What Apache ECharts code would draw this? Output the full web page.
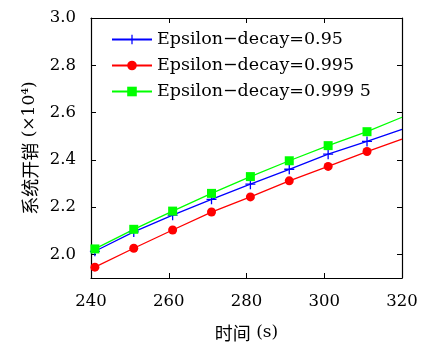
<!DOCTYPE html>
<html>
<head>
<meta charset="utf-8">
<script src="https://cdn.jsdelivr.net/npm/echarts@6/dist/echarts.min.js"></script>
<style>html,body{margin:0;padding:0;background:#fff}#c{width:422px;height:347px}</style>
</head>
<body>
<div id="c"></div>
<script>
// Data
var times = [241, 251, 261, 271, 281, 291, 301, 311];
var edgeTimes = [240, 320];
var seriesNames = ['Epsilon\u2212decay=0.95', 'Epsilon\u2212decay=0.995', 'Epsilon\u2212decay=0.999 5'];
var blueVals = [2.013, 2.095, 2.166, 2.233, 2.297, 2.360, 2.424, 2.478];
var redVals = [1.946, 2.026, 2.103, 2.179, 2.243, 2.311, 2.372, 2.435];
var greenVals = [2.023, 2.106, 2.183, 2.258, 2.329, 2.396, 2.460, 2.519];
var blueEdge = [2.005, 2.529];
var redEdge = [1.935, 2.488];
var greenEdge = [2.015, 2.580];
var yTicks = [2.0, 2.2, 2.4, 2.6, 2.8, 3.0];

var SERIF = 'DejaVu Serif';
var CJK = 'Noto Sans CJK SC';
var plus = 'path://M4.35,0h1.3v4.35h4.35v1.3h-4.35v4.35h-1.3v-4.35h-4.35v-1.3h4.35z';

function build(vals, edge) {
  var d = [{value: [edgeTimes[0], edge[0]], symbol: 'none'}];
  for (var i = 0; i < times.length; i++) d.push([times[i], vals[i]]);
  d.push({value: [edgeTimes[1], edge[1]], symbol: 'none'});
  return d;
}

var chart = echarts.init(document.getElementById('c'), null, {renderer: 'canvas'});
var axisLineStyle = {show: true, lineStyle: {color: '#000', width: 1.2}};
var nameRich = {
  c: {fontFamily: CJK, fontSize: 18, color: '#000'},
  l: {fontFamily: SERIF, fontSize: 17, color: '#000'}
};
var option = {
  animation: false,
  backgroundColor: '#fff',
  grid: {left: 91, right: 20, top: 18, bottom: 69, show: false},
  legend: {
    orient: 'vertical', left: 111, top: 29, padding: 0,
    itemWidth: 40, itemHeight: 12, itemGap: 5,
    textStyle: {fontFamily: SERIF, fontSize: 17.5, color: '#000', lineHeight: 21},
    data: seriesNames
  },
  xAxis: [{
    type: 'value', min: 240, max: 320, interval: 20,
    name: '{c|时间}{l| (s)}', nameLocation: 'middle', nameGap: 46,
    nameTextStyle: {rich: nameRich},
    axisLine: axisLineStyle,
    axisTick: {show: true, inside: true, length: 5, lineStyle: {color: '#000'}},
    axisLabel: {fontFamily: SERIF, fontSize: 16.5, color: '#000', margin: 15},
    splitLine: {show: false}
  }, {
    type: 'value', min: 240, max: 320, interval: 20, position: 'top',
    axisLine: axisLineStyle,
    axisTick: {show: true, inside: true, length: 5, lineStyle: {color: '#000'}},
    axisLabel: {show: false}, splitLine: {show: false}
  }],
  yAxis: [{
    type: 'value', min: 1.9, max: 3.0,
    name: '{c|系统开销}{l| (×10⁴)}', nameLocation: 'middle', nameGap: 51,
    nameTextStyle: {rich: nameRich},
    axisLine: axisLineStyle,
    axisTick: {show: true, inside: true, length: 5, lineStyle: {color: '#000'}, customValues: yTicks},
    axisLabel: {fontFamily: SERIF, fontSize: 16.5, color: '#000', margin: 15, customValues: yTicks,
      formatter: function (v) { return v.toFixed(1); }},
    splitLine: {show: false}
  }, {
    type: 'value', min: 1.9, max: 3.0, position: 'right',
    axisLine: axisLineStyle,
    axisTick: {show: true, inside: true, length: 5, lineStyle: {color: '#000'}, customValues: yTicks},
    axisLabel: {show: false, customValues: yTicks}, splitLine: {show: false}
  }],
  series: [{
    name: seriesNames[0], type: 'line', data: build(blueVals, blueEdge),
    symbol: plus, symbolSize: 10, showAllSymbol: true,
    lineStyle: {color: '#0000ff', width: 1.3}, itemStyle: {color: '#0000ff'}
  }, {
    name: seriesNames[1], type: 'line', data: build(redVals, redEdge),
    symbol: 'circle', symbolSize: 9, showAllSymbol: true,
    lineStyle: {color: '#ff0000', width: 1.3}, itemStyle: {color: '#ff0000'}
  }, {
    name: seriesNames[2], type: 'line', data: build(greenVals, greenEdge),
    symbol: 'rect', symbolSize: 9, showAllSymbol: true,
    lineStyle: {color: '#00ff00', width: 1.3}, itemStyle: {color: '#00ff00'}
  }]
};
chart.setOption(option);
</script>
</body>
</html>
